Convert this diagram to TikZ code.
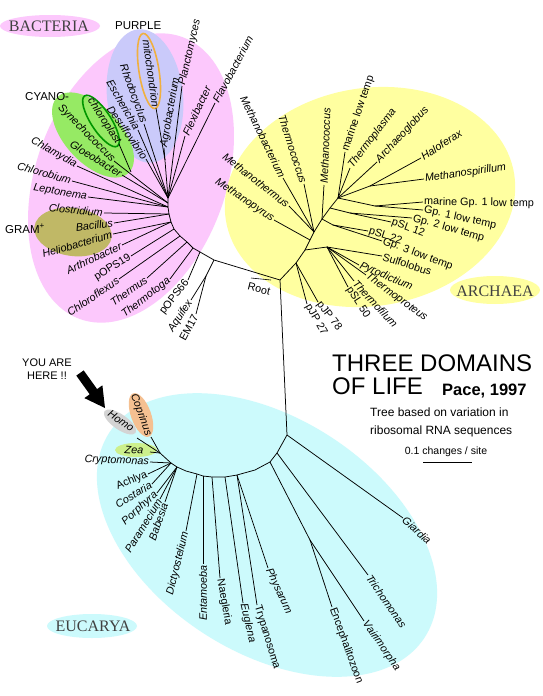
\documentclass[tikz,border=0pt]{standalone}
\usepackage{fontspec}
\setmainfont{Liberation Sans}
\newfontfamily\domfont{Liberation Serif}
\newcommand{\labsize}{\fontsize{10.8}{12}\selectfont}
\definecolor{bacpink}{RGB}{252,200,252}
\definecolor{purpl}{RGB}{202,202,250}
\definecolor{cyanogreen}{RGB}{150,234,100}
\definecolor{gramolive}{RGB}{192,184,102}
\definecolor{archyel}{RGB}{255,255,160}
\definecolor{eucyan}{RGB}{204,250,252}
\definecolor{chlgreen}{RGB}{0,150,0}
\definecolor{mitoorange}{RGB}{240,176,64}
\definecolor{homogray}{RGB}{212,212,212}
\definecolor{copr}{RGB}{245,192,145}
\definecolor{zeagreen}{RGB}{205,240,140}
\begin{document}
\begin{tikzpicture}[x=1pt,y=-1pt,
  lab/.style={font=\labsize\itshape, inner sep=1pt},
  labu/.style={font=\labsize, inner sep=1pt},
  br/.style={line width=0.75pt},
  domlab/.style={font=\domfont\fontsize{16}{18}\selectfont, text=black!75, inner sep=0pt},
  tag/.style={font=\fontsize{11.5}{13}\selectfont, inner sep=0pt}]
\useasboundingbox (0,0) rectangle (543,696);
\fill[white] (0,0) rectangle (543,696);

% ---------- domain ellipses ----------
\fill[bacpink, rotate around={70:(131,178)}] (131,178) ellipse [x radius=150pt, y radius=95pt];
\fill[purpl, rotate around={-84:(145,96)}] (145,96) ellipse [x radius=67pt, y radius=38pt];
\fill[cyanogreen, rotate around={-47:(93,135)}] (93,135) ellipse [x radius=52pt, y radius=28pt];
\fill[gramolive, rotate around={-8:(73,232)}] (73,232) ellipse [x radius=39pt, y radius=24pt];
\draw[chlgreen, line width=1.6pt, rotate around={-57:(101,121)}] (101,121) ellipse [x radius=30pt, y radius=10pt];
\draw[mitoorange, line width=1.6pt, rotate around={-81:(149,71)}] (149,71) ellipse [x radius=38pt, y radius=10pt];
\fill[archyel, rotate around={9:(370,197)}] (370,197) ellipse [x radius=146pt, y radius=109pt];
\fill[eucyan, rotate around={-33:(267,535)}] (267,535) ellipse [x radius=188pt, y radius=117pt];

% label ellipses
\fill[bacpink] (50,26) ellipse [x radius=50pt, y radius=11pt];
\fill[archyel] (495,290) ellipse [x radius=45pt, y radius=14pt];
\fill[eucyan] (92,626) ellipse [x radius=45pt, y radius=12pt];
\fill[homogray, rotate around={-35:(120,422)}] (120,422) ellipse [x radius=19pt, y radius=7.5pt];
\fill[copr, rotate around={-70:(141,415)}] (141,415) ellipse [x radius=23pt, y radius=10pt];
\fill[zeagreen] (136,450) ellipse [x radius=21pt, y radius=7pt];

\node[domlab] (lBac) at (49,26) {BACTERIA};
\node[domlab] (lArc) at (495,291) {ARCHAEA};
\node[domlab] (lEuc) at (93,626) {EUCARYA};

% ---------- backbone ----------
\coordinate (R) at (280,280);
\coordinate (bA0) at (168,198);
\coordinate (bA0b) at (168,203);
\coordinate (bA1) at (168,207);
\coordinate (bA2) at (169,214);
\coordinate (bA3) at (171,222);
\coordinate (bA4) at (174,229);
\coordinate (bA5) at (180,236);
\coordinate (bA6) at (187,242);
\coordinate (bA7) at (193,248);
\coordinate (bA8) at (200,252);
\coordinate (bA9) at (214,260);
\coordinate (aqN) at (206,276);
\draw[br] (bA0) -- (bA0b) -- (bA1) -- (bA2) -- (bA3) -- (bA4) -- (bA5) -- (bA6) -- (bA7) -- (bA8) -- (bA9) -- (R);

% root marker
\coordinate (rm1) at (251,278);
\coordinate (rm2) at (271,280);
\draw[line width=0.6pt] (rm1) -- (rm2);
\node[labu, rotate=-14] (lRoot) at (259,289) {Root};

% ---------- Bacteria ----------
\coordinate (tPlanc) at (182,86);
\coordinate (tFlavo) at (215,103);
\coordinate (tFlexi) at (185,136);
\coordinate (tAgro) at (164,148);
\coordinate (tMito) at (156,108);
\coordinate (jMito) at (165,160);
\coordinate (tRhodo) at (144,124);
\coordinate (tEsch) at (138,130);
\coordinate (tDesul) at (146,159);
\coordinate (tChlp) at (119,144);
\coordinate (jChlp) at (131,172);
\coordinate (tSyn) at (114,161);
\coordinate (tGloeo) at (122,175);
\coordinate (tChlam) at (77,166);
\coordinate (tChlor) at (72,181);
\coordinate (tLept) at (88,197);
\coordinate (tClos) at (104,213);
\coordinate (tBac) at (114,223);
\coordinate (tHelio) at (113,234);
\coordinate (tArth) at (122,245);
\coordinate (tPOPSa) at (131,256);
\coordinate (tChlfx) at (119,279);
\coordinate (tThms) at (147,278);
\coordinate (tThtg) at (170,279);
\coordinate (tPOPSb) at (188,280);
\coordinate (tAqui) at (191,300);
\coordinate (tEM) at (196,314);

\draw[br] (tPlanc) -- (bA0);
\draw[br] (tFlavo) -- (bA0);
\draw[br] (tFlexi) -- (bA0);
\draw[br] (tAgro) -- (bA0);
\draw[br] (tMito) -- (jMito);
\draw[br] (tRhodo) -- (bA0);
\draw[br] (tEsch) -- (bA0);
\draw[br] (tDesul) -- (bA0);
\draw[br] (tChlp) -- (jChlp);
\draw[br] (tSyn) -- (bA0b);
\draw[br] (tGloeo) -- (bA0b);
\draw[br] (tChlam) -- (bA1);
\draw[br] (tChlor) -- (bA1);
\draw[br] (tLept) -- (bA1);
\draw[br] (tClos) -- (bA2);
\draw[br] (tBac) -- (bA2);
\draw[br] (tHelio) -- (bA3);
\draw[br] (tArth) -- (bA3);
\draw[br] (tPOPSa) -- (bA4);
\draw[br] (tChlfx) -- (bA5);
\draw[br] (tThms) -- (bA6);
\draw[br] (tThtg) -- (bA7);
\draw[br] (tPOPSb) -- (bA8);
\draw[br] (bA9) -- (aqN);
\draw[br] (aqN) -- (tAqui);
\draw[br] (aqN) -- (tEM);

\node[lab, rotate=77, anchor=west] (nPlanc) at (tPlanc) {Planctomyces};
\node[lab, rotate=62, anchor=west] (nFlavo) at (tFlavo) {Flavobacterium};
\node[lab, rotate=65, anchor=west] (nFlexi) at (tFlexi) {Flexibacter};
\node[lab, rotate=80, anchor=west] (nAgro) at (tAgro) {Agrobacterium};
\node[lab, rotate=-82, anchor=east] (nMito) at (tMito) {mitochondrion};
\node[lab, rotate=-70, anchor=east] (nRhodo) at (tRhodo) {Rhodocyclus};
\node[lab, rotate=-60, anchor=east] (nEsch) at (tEsch) {Escherichia};
\node[lab, rotate=-55, anchor=east] (nDesul) at (tDesul) {Desulfovibrio};
\node[lab, rotate=-57, anchor=east] (nChlp) at (tChlp) {chloroplast};
\node[lab, rotate=-45, anchor=east] (nSyn) at (tSyn) {Synechococcus};
\node[lab, rotate=-32, anchor=east] (nGloeo) at (tGloeo) {Gloeobacter};
\node[lab, rotate=-30, anchor=east] (nChlam) at (tChlam) {Chlamydia};
\node[lab, rotate=-16, anchor=east] (nChlor) at (tChlor) {Chlorobium};
\node[lab, rotate=-9, anchor=east] (nLept) at (tLept) {Leptonema};
\node[lab, rotate=-6, anchor=east] (nClos) at (tClos) {Clostridium};
\node[lab, rotate=7, anchor=east] (nBac) at (tBac) {Bacillus};
\node[lab, rotate=16, anchor=east] (nHelio) at (tHelio) {Heliobacterium};
\node[lab, rotate=25, anchor=east] (nArth) at (tArth) {Arthrobacter};
\node[labu, rotate=32, anchor=east] (nPOPSa) at (tPOPSa) {pOPS19};
\node[lab, rotate=34, anchor=east] (nChlfx) at (tChlfx) {Chloroflexus};
\node[lab, rotate=36, anchor=east] (nThms) at (tThms) {Thermus};
\node[lab, rotate=38, anchor=east] (nThtg) at (tThtg) {Thermotoga};
\node[labu, rotate=52, anchor=east] (nPOPSb) at (tPOPSb) {pOPS66};
\node[lab, rotate=57, anchor=east] (nAqui) at (tAqui) {Aquifex};
\node[labu, rotate=62, anchor=east] (nEM) at (tEM) {EM17};

\node[tag, anchor=base west] (lPurple) at (115,29) {PURPLE};
\node[tag, anchor=base west] (lCyano) at (25,100) {CYANO-};
\node[tag, anchor=base west] (lGram) at (5,233) {GRAM\textsuperscript{+}};

% ---------- Archaea ----------
\coordinate (aP1) at (296,263);
\coordinate (aP2) at (305,250);
\coordinate (aP3) at (310,240);
\coordinate (aP4) at (314,232);
\coordinate (aP5) at (322,219);
\coordinate (aP6) at (330,208);
\coordinate (aP7) at (338,198);
\coordinate (aC) at (327,247);
\coordinate (aQa) at (333,225);
\coordinate (aQb) at (350,213);
\coordinate (aH) at (370,186);
\coordinate (aM) at (375,206);
\draw[br] (R) -- (aP1) -- (aP2) -- (aP3) -- (aP4) -- (aP5) -- (aP6) -- (aP7);
\draw[br] (aP2) -- (aC);
\draw[br] (aP5) -- (aQa);
\draw[br] (aP6) -- (aQb);
\draw[br] (aP7) -- (aH);
\draw[br] (aP7) -- (aM);

\coordinate (tMbac) at (283,178);
\coordinate (tTcoc) at (304,184);
\coordinate (tMthe) at (289,206);
\coordinate (tMpyr) at (274,220);
\coordinate (tMcoc) at (324,185);
\coordinate (tMlt) at (345,152);
\coordinate (tTpla) at (350,168);
\coordinate (tArgl) at (377,162);
\coordinate (tHalo) at (421,158);
\coordinate (tMspi) at (424,179);
\coordinate (tMGa) at (423,202);
\coordinate (tGa) at (423,210);
\coordinate (tGb) at (412,218);
\coordinate (tPSLa) at (391,222);
\coordinate (tPSLb) at (368,231);
\coordinate (tGc) at (382,241);
\coordinate (tSulf) at (382,256);
\coordinate (tPyro) at (359,265);
\coordinate (tTprot) at (366,275);
\coordinate (tTfil) at (354,281);
\coordinate (tPSLc) at (348,287);
\coordinate (tPJPa) at (318,302);
\coordinate (tPJPb) at (307,304);

\draw[br] (tMbac) -- (aP4);
\draw[br] (tTcoc) -- (aP4);
\draw[br] (tMthe) -- (aP4);
\draw[br] (tMpyr) -- (aP3);
\draw[br] (tMcoc) -- (aP5);
\draw[br] (tMlt) -- (aP7);
\draw[br] (tTpla) -- (aP7);
\draw[br] (tArgl) -- (aP7);
\draw[br] (tHalo) -- (aH);
\draw[br] (tMspi) -- (aH);
\draw[br] (tMGa) -- (aM);
\draw[br] (tGa) -- (aM);
\draw[br] (tGb) -- (aQb);
\draw[br] (tPSLa) -- (aQb);
\draw[br] (tPSLb) -- (aQa);
\draw[br] (tGc) -- (aQa);
\draw[br] (tSulf) -- (aC);
\draw[br] (tPyro) -- (aC);
\draw[br] (tTprot) -- (aC);
\draw[br] (tTfil) -- (aC);
\draw[br] (tPSLc) -- (aC);
\draw[br] (tPJPa) -- (aP1);
\draw[br] (tPJPb) -- (aP1);

\node[lab, rotate=-64, anchor=east] (nMbac) at (tMbac) {Methanobacterium};
\node[lab, rotate=-72, anchor=east] (nTcoc) at (tTcoc) {Thermococcus};
\node[lab, rotate=-38, anchor=east] (nMthe) at (tMthe) {Methanothermus};
\node[lab, rotate=-34, anchor=east] (nMpyr) at (tMpyr) {Methanopyrus};
\node[lab, rotate=88, anchor=west] (nMcoc) at (tMcoc) {Methanococcus};
\node[labu, rotate=71, anchor=west] (nMlt) at (tMlt) {marine low temp};
\node[lab, rotate=53, anchor=west] (nTpla) at (tTpla) {Thermoplasma};
\node[lab, rotate=47, anchor=west] (nArgl) at (tArgl) {Archaeoglobus};
\node[lab, rotate=33, anchor=west] (nHalo) at (tHalo) {Haloferax};
\node[lab, rotate=8, anchor=west] (nMspi) at (tMspi) {Methanospirillum};
\node[labu, rotate=-1, anchor=west] (nMGa) at (tMGa) {marine Gp. 1 low temp};
\node[labu, rotate=-12, anchor=west] (nGa) at (tGa) {Gp. 1 low temp};
\node[labu, rotate=-16, anchor=west] (nGb) at (tGb) {Gp. 2 low temp};
\node[labu, rotate=-20, anchor=west] (nPSLa) at (tPSLa) {pSL 12};
\node[labu, rotate=-18, anchor=west] (nPSLb) at (tPSLb) {pSL 22};
\node[labu, rotate=-20, anchor=west] (nGc) at (tGc) {Gp. 3 low temp};
\node[labu, rotate=-18, anchor=west] (nSulf) at (tSulf) {Sulfolobus};
\node[lab, rotate=-23, anchor=west] (nPyro) at (tPyro) {Pyrodictium};
\node[lab, rotate=-36, anchor=west] (nTprot) at (tTprot) {Thermoproteus};
\node[lab, rotate=-47, anchor=west] (nTfil) at (tTfil) {Thermofilum};
\node[labu, rotate=-57, anchor=west] (nPSLc) at (tPSLc) {pSL 50};
\node[labu, rotate=-52, anchor=west] (nPJPa) at (tPJPa) {pJP 78};
\node[labu, rotate=-60, anchor=west] (nPJPb) at (tPJPb) {pJP 27};

% ---------- Eucarya ----------
\coordinate (eV) at (287,435);
\coordinate (e1) at (277,453);
\coordinate (e2) at (270,462);
\coordinate (e3) at (255,470);
\coordinate (e4) at (237,475);
\coordinate (e5) at (225,477);
\coordinate (e6) at (212,477);
\coordinate (e7) at (203,476);
\coordinate (e8) at (197,474);
\coordinate (e9) at (186,471);
\coordinate (eC2) at (177,467);
\coordinate (eC) at (171,463);
\coordinate (eA) at (160,453);
\coordinate (eE) at (310,540);
\draw[br] (R) -- (eV) -- (e1) -- (e2) -- (e3) -- (e4) -- (e5) -- (e6) -- (e7) -- (e8) -- (e9) -- (eC2) -- (eC) -- (eA);
\draw[br] (e2) -- (eE);

\coordinate (tGiar) at (403,518);
\coordinate (tTrich) at (368,575);
\coordinate (tEnce) at (332,607);
\coordinate (tVair) at (364,621);
\coordinate (tPhys) at (268,568);
\coordinate (tTryp) at (257,605);
\coordinate (tEugl) at (243,603);
\coordinate (tNaeg) at (220,578);
\coordinate (tEnta) at (203,564);
\coordinate (tDict) at (186,531);
\coordinate (tBabe) at (165,502);
\coordinate (tPara) at (160,499);
\coordinate (tPorp) at (157,493);
\coordinate (tCost) at (152,484);
\coordinate (tAchl) at (148,474);
\coordinate (tCrypt) at (150,462);
\coordinate (tHomo) at (137,438);
\coordinate (tCopr) at (151,437);
\coordinate (tZea) at (150,452);

\draw[br] (eV) -- (tGiar);
\draw[br] (e1) -- (tTrich);
\draw[br] (eE) -- (tEnce);
\draw[br] (eE) -- (tVair);
\draw[br] (e4) -- (tPhys);
\draw[br] (e4) -- (tTryp);
\draw[br] (e5) -- (tEugl);
\draw[br] (e6) -- (tNaeg);
\draw[br] (e7) -- (tEnta);
\draw[br] (e8) -- (tDict);
\draw[br] (eC2) -- (tBabe);
\draw[br] (eC2) -- (tPara);
\draw[br] (eC2) -- (tPorp);
\draw[br] (eC) -- (tCost);
\draw[br] (eC) -- (tAchl);
\draw[br] (eC) -- (tCrypt);
\draw[br] (eA) -- (tHomo);
\draw[br] (eA) -- (tCopr);
\draw[br] (eA) -- (tZea);

\node[lab, rotate=-42, anchor=west] (nGiar) at (tGiar) {Giardia};
\node[lab, rotate=-55, anchor=west] (nTrich) at (tTrich) {Trichomonas};
\node[labu, rotate=-70, anchor=west] (nEnce) at (tEnce) {Encephalitozoon};
\node[lab, rotate=-55, anchor=west] (nVair) at (tVair) {Vairimorpha};
\node[lab, rotate=-65, anchor=west] (nPhys) at (tPhys) {Physarum};
\node[labu, rotate=-73, anchor=west] (nTryp) at (tTryp) {Trypanosoma};
\node[lab, rotate=-77, anchor=west] (nEugl) at (tEugl) {Euglena};
\node[labu, rotate=-80, anchor=west] (nNaeg) at (tNaeg) {Naegleria};
\node[lab, rotate=90, anchor=east] (nEnta) at (tEnta) {Entamoeba};
\node[lab, rotate=76, anchor=east] (nDict) at (tDict) {Dictyostelium};
\node[lab, rotate=71, anchor=east] (nBabe) at (tBabe) {Babesia};
\node[lab, rotate=58, anchor=east] (nPara) at (tPara) {Paramecium};
\node[lab, rotate=42, anchor=east] (nPorp) at (tPorp) {Porphyra};
\node[lab, rotate=30, anchor=east] (nCost) at (tCost) {Costaria};
\node[labu, rotate=22, anchor=east] (nAchl) at (tAchl) {Achlya};
\node[lab, rotate=-2, anchor=east] (nCrypt) at (tCrypt) {Cryptomonas};
\node[lab, rotate=-35] (nHomo) at (121,421) {Homo};
\node[lab, rotate=-70] (nCopr) at (141,415) {Coprinus};
\node[lab, rotate=-4] (nZea) at (134,450) {Zea};

% you are here
\node[align=center, font=\fontsize{11}{13}\selectfont, inner sep=0pt] (lYou) at (47,369) {YOU ARE\\HERE !!};
\fill (76.3,375.6) -- (89.7,394.3) -- (84.4,398.1) -- (105,408) -- (102.4,385.3) -- (97.1,389.1) -- (83.7,370.4) -- cycle;

% ---------- title ----------
\node[anchor=base west, inner sep=0pt, font=\fontsize{24}{26}\selectfont] (t1) at (332,371) {THREE DOMAINS};
\node[anchor=base west, inner sep=0pt, font=\fontsize{24}{26}\selectfont] (t2) at (332,394) {OF LIFE};
\node[anchor=base west, inner sep=0pt, font=\fontsize{16.5}{18}\selectfont\bfseries] (t3) at (442,395) {Pace, 1997};
\node[anchor=base west, inner sep=0pt, font=\fontsize{12}{14}\selectfont] (t4) at (370,416) {Tree based on variation in};
\node[anchor=base west, inner sep=0pt, font=\fontsize{12}{14}\selectfont] (t5) at (370,434) {ribosomal RNA sequences};
\node[anchor=base, inner sep=0pt, font=\fontsize{10.5}{12}\selectfont] (t6) at (446,454) {0.1 changes / site};
\coordinate (sb1) at (423,462);
\coordinate (sb2) at (472,462);
\draw[line width=0.7pt] (sb1) -- (sb2);
\end{tikzpicture}
\end{document}
